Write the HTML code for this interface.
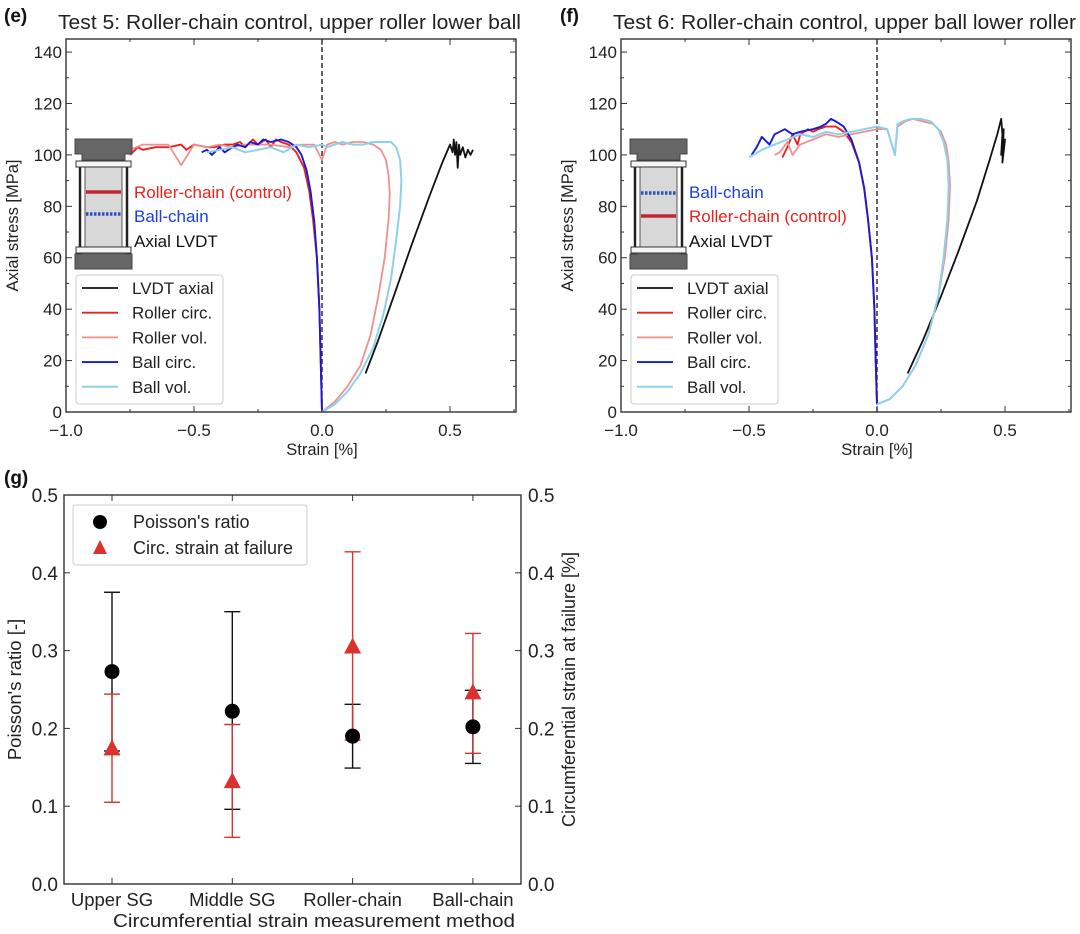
<!DOCTYPE html>
<html><head><meta charset="utf-8">
<style>
html,body{margin:0;padding:0;background:#fff;}
svg{display:block;font-family:"Liberation Sans",Arial,sans-serif;}
</style></head>
<body>
<svg id="fig" width="1080" height="934" viewBox="0 0 1080 934" xmlns="http://www.w3.org/2000/svg">
<g id="pe"></g>
<g id="pf"></g>
<g id="pg"></g>
</svg>
<script>
// ---------- Panel e data (strain %, stress MPa) ----------
const eLvdtX = [0.17,0.22,0.28,0.35,0.42,0.47,0.50,0.51,0.515,0.52,0.525,0.53,0.535,0.54,0.55,0.56,0.57,0.58,0.59];
const eLvdtY = [15,28,45,65,84,97,104,101,106,100,105,95,104,100,103,99,102,100,102];
const eRcX = [0,-0.005,-0.01,-0.02,-0.035,-0.05,-0.07,-0.1,-0.13,-0.16,-0.18,-0.2,-0.22,-0.25,-0.27,-0.3,-0.32,-0.35,-0.38,-0.42,-0.45,-0.5,-0.53,-0.55,-0.6,-0.65,-0.7,-0.72,-0.75];
const eRcY = [0,20,40,60,75,86,95,101,104,105,106,103,106,104,106,103,105,104,104,103,103,104,102,104,103,103,102,103,100];
const eRvX = [0,0.05,0.1,0.15,0.19,0.22,0.245,0.26,0.265,0.26,0.25,0.23,0.2,0.16,0.12,0.08,0.05,0.02,0,-0.03,-0.08,-0.13,-0.2,-0.25,-0.3,-0.35,-0.4,-0.45,-0.5,-0.55,-0.6,-0.65,-0.7,-0.75];
const eRvY = [0,4,10,18,30,45,60,75,85,92,98,102,104,105,105,104,105,104,98,104,104,103,104,104,104,103,104,103,104,96,104,104,104,102];
const eBcX = [0,-0.005,-0.01,-0.02,-0.03,-0.045,-0.06,-0.08,-0.1,-0.13,-0.16,-0.2,-0.23,-0.25,-0.28,-0.3,-0.33,-0.35,-0.38,-0.4,-0.43,-0.45,-0.47];
const eBcY = [0,20,40,60,74,86,94,100,103,105,106,105,106,104,105,103,104,103,101,103,100,102,101];
const eBvX = [0,0.05,0.1,0.15,0.2,0.24,0.27,0.29,0.305,0.31,0.305,0.29,0.27,0.24,0.2,0.16,0.12,0.08,0.05,0.02,0,-0.05,-0.1,-0.15,-0.2,-0.25,-0.3,-0.35,-0.4,-0.45];
const eBvY = [0,3,8,15,25,38,52,67,80,90,98,103,105,105,105,104,104,105,104,103,104,103,104,101,103,102,101,103,102,101];

// ---------- Panel f data ----------
const fLvdtX = [0.12,0.18,0.25,0.32,0.39,0.44,0.47,0.48,0.485,0.49,0.485,0.495,0.49,0.5,0.49,0.495];
const fLvdtY = [15,28,45,63,82,98,108,112,114,108,100,110,97,106,100,104];
const fRcX = [0,-0.005,-0.01,-0.02,-0.035,-0.05,-0.07,-0.1,-0.13,-0.16,-0.2,-0.23,-0.25,-0.27,-0.3,-0.31,-0.33,-0.35,-0.37];
const fRcY = [3,20,40,60,75,87,97,105,109,111,111,110,109,110,108,104,108,103,99];
const fRvX = [0,0.05,0.1,0.15,0.2,0.24,0.265,0.28,0.285,0.28,0.27,0.25,0.22,0.18,0.14,0.11,0.08,0.07,0.04,0,-0.05,-0.1,-0.15,-0.2,-0.25,-0.3,-0.33,-0.35,-0.38,-0.4];
const fRvY = [3,5,10,18,30,45,60,75,88,97,104,109,112,113,114,113,111,100,110,110,109,108,107,108,106,104,100,105,101,100];
const fBcX = [0,-0.005,-0.01,-0.02,-0.035,-0.05,-0.07,-0.1,-0.13,-0.16,-0.18,-0.2,-0.22,-0.25,-0.3,-0.33,-0.36,-0.4,-0.42,-0.45,-0.47,-0.49];
const fBcY = [3,20,40,60,75,87,97,106,111,113,114,112,111,110,109,108,110,108,104,107,103,100];
const fBvX = [0,0.05,0.1,0.15,0.2,0.24,0.26,0.275,0.28,0.275,0.26,0.24,0.21,0.17,0.13,0.1,0.08,0.07,0.04,0,-0.05,-0.1,-0.15,-0.2,-0.25,-0.3,-0.35,-0.4,-0.45,-0.5];
const fBvY = [3,5,10,18,30,45,60,75,88,98,105,110,113,114,114,113,112,100,110,111,110,109,108,109,107,108,106,104,102,99];

// ---------- Panel g data ----------
const gCats = ["Upper SG","Middle SG","Roller-chain","Ball-chain"];
const gPoisson = [0.273,0.222,0.190,0.202];
const gPoissonLo = [0.171,0.096,0.149,0.155];
const gPoissonHi = [0.375,0.350,0.231,0.249];
const gCirc = [0.173,0.131,0.304,0.245];
const gCircLo = [0.105,0.060,0.185,0.168];
const gCircHi = [0.244,0.205,0.427,0.322];
const yTicksStress = [0,20,40,60,80,100,120,140];
const xTicksStrain = [-1.0,-0.5,0.0,0.5];
const gTicks = [0.0,0.1,0.2,0.3,0.4,0.5];

const NS="http://www.w3.org/2000/svg";
function mk(parent,tag,attrs,text){const e=document.createElementNS(NS,tag);for(const k in attrs)e.setAttribute(k,attrs[k]);if(text!==undefined)e.textContent=text;parent.appendChild(e);return e;}

function strainPanel(g,cfg){
  const L=cfg.left,R=cfg.left+450,T=39,B=412;
  const sx=v=>cfg.left+(v+1)*256;
  const sy=v=>B-v*2.571;
  for(let v=-1;v<=0.751;v+=0.25){
    const x=sx(v),maj=Math.abs(v*2-Math.round(v*2))<1e-6;const len=maj?6:3;
    let t=mk(g,'line',{x1:x,y1:B,x2:x,y2:B-len,stroke:'#333','stroke-width':1});
    
    mk(g,'line',{x1:x,y1:T,x2:x,y2:T+len,stroke:'#333','stroke-width':1});
  }
  xTicksStrain.forEach(v=>{
    const t=mk(g,'text',{x:sx(v),y:B+24,'font-size':17,'text-anchor':'middle',fill:'#222'},v<0?"\u2212"+Math.abs(v).toFixed(1):v.toFixed(1));
    
  });
  for(let v=0;v<=140;v+=10){
    const y=sy(v),len=(v%20===0)?6:3;
    mk(g,'line',{x1:L,y1:y,x2:L+len,y2:y,stroke:'#333','stroke-width':1});
    mk(g,'line',{x1:R,y1:y,x2:R-len,y2:y,stroke:'#333','stroke-width':1});
  }
  yTicksStress.forEach(v=>{
    const t=mk(g,'text',{x:L-4,y:sy(v)+6,'font-size':17,'text-anchor':'end',fill:'#222'},String(v));
    
  });
  let z=mk(g,'line',{x1:sx(0),y1:T,x2:sx(0),y2:B,stroke:'#222','stroke-width':1.4,'stroke-dasharray':'5,3'});
  
  cfg.series.forEach(s=>{
    const d=s.x.map((v,i)=>(i?'L':'M')+sx(v).toFixed(1)+','+sy(s.y[i]).toFixed(1)).join(' ');
    const p=mk(g,'path',{d:d,fill:'none',stroke:s.c,'stroke-width':s.w,'stroke-linejoin':'round'});
    
  });
  let f=mk(g,'rect',{x:L,y:T,width:R-L,height:B-T,fill:'none',stroke:'#333','stroke-width':1.4});
  
  let lb=mk(g,'text',{x:cfg.panelX,y:22,'font-size':19,'font-weight':'bold',fill:'#111'},cfg.panel);
  
  let ti=mk(g,'text',{x:cfg.titleX,y:29,'font-size':20.5,fill:'#222',textLength:463,lengthAdjust:'spacingAndGlyphs'},cfg.title);
  
  let xl=mk(g,'text',{x:sx(0),y:455,'font-size':16.5,'text-anchor':'middle',fill:'#222'},'Strain [%]');
  
  let yl=mk(g,'text',{x:0,y:0,'font-size':16.5,'text-anchor':'middle',fill:'#222',transform:`translate(${L-48},${(T+B)/2}) rotate(-90)`},'Axial stress [MPa]');
  
  const ix=L+9,iy=139;
  const sch=mk(g,'g',{});
  
  mk(sch,'path',{d:`M${ix},${iy} h57 v15 h-7 v6 h-43 v-6 h-7 z`,fill:'#666',stroke:'#444'});
  mk(sch,'path',{d:`M${ix},${iy+130} h57 v-15 h-7 v-6 h-43 v6 h-7 z`,fill:'#666',stroke:'#444'});
  mk(sch,'rect',{x:ix+10,y:iy+28,width:37,height:80,fill:'#d8d8d8',stroke:'#555'});
  mk(sch,'line',{x1:ix+5,y1:iy+22,x2:ix+5,y2:iy+113,stroke:'#222','stroke-width':2.5});
  mk(sch,'line',{x1:ix+52,y1:iy+22,x2:ix+52,y2:iy+113,stroke:'#222','stroke-width':2.5});
  mk(sch,'rect',{x:ix+1,y:iy+22,width:55,height:6,fill:'#f4f4f4',stroke:'#333'});
  mk(sch,'rect',{x:ix+1,y:iy+108,width:55,height:6,fill:'#f4f4f4',stroke:'#333'});
  mk(sch,'line',{x1:ix+11,y1:iy+cfg.redY,x2:ix+46,y2:iy+cfg.redY,stroke:'#c0282d','stroke-width':3.5});
  mk(sch,'line',{x1:ix+11,y1:iy+cfg.blueY,x2:ix+46,y2:iy+cfg.blueY,stroke:'#2a4fc8','stroke-width':3.5,'stroke-dasharray':'2.5,1.5'});
  cfg.inset.forEach(t=>{
    const e=mk(g,'text',{x:ix+59,y:t.y,'font-size':17,fill:t.c},t.s);
    
  });
  const lx=L+10,ly=275;
  let lr=mk(g,'rect',{x:lx,y:ly,width:147,height:129,rx:3,fill:'#fff',stroke:'#ccc','stroke-width':1});
  
  cfg.series.forEach((s,i)=>{
    const yy=ly+13+i*24.7;
    mk(g,'line',{x1:lx+6,y1:yy,x2:lx+42,y2:yy,stroke:s.c,'stroke-width':s.w});
    const e=mk(g,'text',{x:lx+56,y:yy+6,'font-size':17,fill:'#222'},s.label);
    
  });
}

const seriesE=[
 {name:'lvdt-axial-line',label:'LVDT axial',c:'#111',w:1.8,x:eLvdtX,y:eLvdtY},
 {name:'roller-circ-line',label:'Roller circ.',c:'#e8231e',w:1.9,x:eRcX,y:eRcY},
 {name:'roller-vol-line',label:'Roller vol.',c:'#f0908e',w:1.8,x:eRvX,y:eRvY},
 {name:'ball-circ-line',label:'Ball circ.',c:'#1a1ad6',w:1.9,x:eBcX,y:eBcY},
 {name:'ball-vol-line',label:'Ball vol.',c:'#8fd0ea',w:2,x:eBvX,y:eBvY}];
strainPanel(document.getElementById('pe'),{left:66,panel:'(e)',panelX:4,title:'Test 5: Roller-chain control, upper roller lower ball',titleX:58,
  series:seriesE,redY:53,blueY:75,
  inset:[{s:'Roller-chain (control)',c:'#e8231e',y:198},{s:'Ball-chain',c:'#1a3fe0',y:222},{s:'Axial LVDT',c:'#111',y:247}]});
const seriesF=[
 {name:'lvdt-axial-line',label:'LVDT axial',c:'#111',w:1.8,x:fLvdtX,y:fLvdtY},
 {name:'roller-circ-line',label:'Roller circ.',c:'#e8231e',w:1.9,x:fRcX,y:fRcY},
 {name:'roller-vol-line',label:'Roller vol.',c:'#f0908e',w:1.8,x:fRvX,y:fRvY},
 {name:'ball-circ-line',label:'Ball circ.',c:'#1a1ad6',w:1.9,x:fBcX,y:fBcY},
 {name:'ball-vol-line',label:'Ball vol.',c:'#8fd0ea',w:2,x:fBvX,y:fBvY}];
strainPanel(document.getElementById('pf'),{left:621,panel:'(f)',panelX:560,title:'Test 6: Roller-chain control, upper ball lower roller',titleX:613,
  series:seriesF,redY:77,blueY:54,
  inset:[{s:'Ball-chain',c:'#1a3fe0',y:198},{s:'Roller-chain (control)',c:'#e8231e',y:222},{s:'Axial LVDT',c:'#111',y:247}]});

// ---------- Panel g ----------
(function(){
  const g=document.getElementById('pg');
  const L=64,R=521,T=495,B=884;
  const sx=i=>112+i*120.3;
  const sy=v=>B-v*778;
  for(let v=0;v<=0.5001;v+=0.1){
    const y=sy(v);
    mk(g,'line',{x1:L,y1:y,x2:L+6,y2:y,stroke:'#333'});
    mk(g,'line',{x1:R,y1:y,x2:R-6,y2:y,stroke:'#333'});
  }
  gTicks.forEach(v=>{
    let a=mk(g,'text',{x:L-6,y:sy(v)+7,'font-size':19,'text-anchor':'end',fill:'#222'},v.toFixed(1));
    
    let b=mk(g,'text',{x:R+7,y:sy(v)+7,'font-size':19,fill:'#222'},v.toFixed(1));
    
  });
  gCats.forEach((c,i)=>{
    mk(g,'line',{x1:sx(i),y1:B,x2:sx(i),y2:B-6,stroke:'#333'});
    mk(g,'line',{x1:sx(i),y1:T,x2:sx(i),y2:T+6,stroke:'#333'});
    const t=mk(g,'text',{x:sx(i),y:906,'font-size':18.5,'text-anchor':'middle',fill:'#222'},c);
    
  });
  gCats.forEach((c,i)=>{
    const x=sx(i);
    const eb=mk(g,'g',{});
    mk(eb,'line',{x1:x,y1:sy(gPoissonLo[i]),x2:x,y2:sy(gPoissonHi[i]),stroke:'#111','stroke-width':1.4});
    mk(eb,'line',{x1:x-8,y1:sy(gPoissonLo[i]),x2:x+8,y2:sy(gPoissonLo[i]),stroke:'#111','stroke-width':1.4});
    mk(eb,'line',{x1:x-8,y1:sy(gPoissonHi[i]),x2:x+8,y2:sy(gPoissonHi[i]),stroke:'#111','stroke-width':1.4});
    const ec=mk(g,'g',{});
    mk(ec,'line',{x1:x,y1:sy(gCircLo[i]),x2:x,y2:sy(gCircHi[i]),stroke:'#d9322f','stroke-width':1.4});
    mk(ec,'line',{x1:x-8,y1:sy(gCircLo[i]),x2:x+8,y2:sy(gCircLo[i]),stroke:'#d9322f','stroke-width':1.4});
    mk(ec,'line',{x1:x-8,y1:sy(gCircHi[i]),x2:x+8,y2:sy(gCircHi[i]),stroke:'#d9322f','stroke-width':1.4});
  });
  gCats.forEach((c,i)=>{
    const x=sx(i);
    const p=mk(g,'circle',{cx:x,cy:sy(gPoisson[i]),r:7.5,fill:'#000'});
    
    const y=sy(gCirc[i]);
    const t=mk(g,'polygon',{points:`${x},${y-10} ${x-8.5},${y+6} ${x+8.5},${y+6}`,fill:'#d9322f'});
    
  });
  let f=mk(g,'rect',{x:L,y:T,width:R-L,height:B-T,fill:'none',stroke:'#333','stroke-width':1.4});
  
  let lb=mk(g,'text',{x:4,y:484,'font-size':19,'font-weight':'bold',fill:'#111'},'(g)');
  
  let xl=mk(g,'text',{x:314,y:927,'font-size':18.5,'text-anchor':'middle',fill:'#222',textLength:402,lengthAdjust:'spacingAndGlyphs'},'Circumferential strain measurement method');
  
  let yl=mk(g,'text',{x:0,y:0,'font-size':18.5,'text-anchor':'middle',fill:'#222',transform:`translate(21,${(T+B)/2}) rotate(-90)`},"Poisson's ratio [-]");
  
  let yr=mk(g,'text',{x:0,y:0,'font-size':18,'text-anchor':'middle',fill:'#222',transform:`translate(575,${(T+B)/2}) rotate(-90)`},'Circumferential strain at failure [%]');
  
  let lr=mk(g,'rect',{x:73,y:505,width:234,height:60,rx:3,fill:'#fff',stroke:'#ccc'});
  
  mk(g,'circle',{cx:100,cy:522,r:7,fill:'#000'});
  let l1=mk(g,'text',{x:133,y:528,'font-size':18,fill:'#222'},"Poisson's ratio");
  
  mk(g,'polygon',{points:'100,540 93,554 107,554',fill:'#d9322f'});
  let l2=mk(g,'text',{x:133,y:554,'font-size':18,fill:'#222'},'Circ. strain at failure');
  
})();
</script>
</body></html>
